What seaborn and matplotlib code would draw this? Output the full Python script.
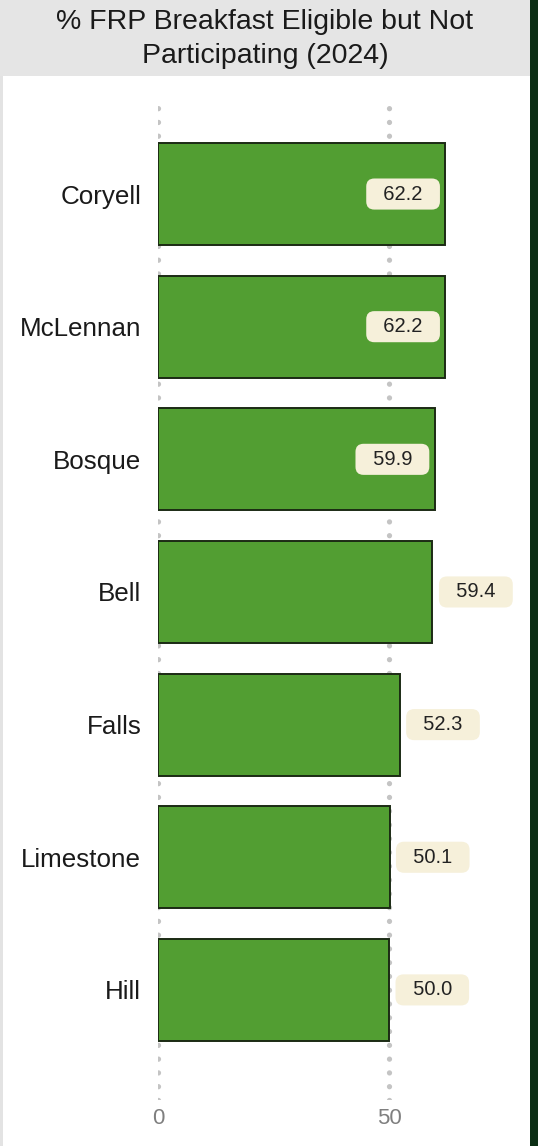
import matplotlib
matplotlib.use("Agg")
import matplotlib.pyplot as plt
import seaborn as sns
import pandas as pd
from matplotlib.patches import Rectangle

counties = ["Coryell", "McLennan", "Bosque", "Bell", "Falls", "Limestone", "Hill"]
values = [62.2, 62.2, 59.9, 59.4, 52.3, 50.1, 50.0]
xticks = [0, 50]
title = "% FRP Breakfast Eligible but Not\nParticipating (2024)"

df = pd.DataFrame({"county": counties, "value": values})

sns.set_theme(style="white")
plt.rcParams["font.family"] = ["Liberation Sans", "DejaVu Sans"]

W, H = 538, 1146
fig = plt.figure(figsize=(W / 100, H / 100), dpi=100)
fig.patch.set_facecolor("white")

# decorations: title strip, left border, right dark strip
fig.add_artist(Rectangle((0, 1 - 76 / H), 530 / W, 76 / H, transform=fig.transFigure,
                         facecolor="#E5E5E5", edgecolor="none", zorder=0))
fig.add_artist(Rectangle((0, 0), 2.5 / W, 1 - 76 / H, transform=fig.transFigure,
                         facecolor="#E3E3E3", edgecolor="none", zorder=0))
fig.add_artist(Rectangle((530 / W, 0), 8 / W, 1, transform=fig.transFigure,
                         facecolor="#0B2E14", edgecolor="none", zorder=0))
fig.text(265 / W, 1 - 39 / H, title, ha="center", va="center", fontsize=20.5,
         color="#1A1A1A", linespacing=1.36)

top_px, bot_px = 98, 1100
ax = fig.add_axes([158 / W, 1 - bot_px / H, (530 - 158) / W, (bot_px - top_px) / H])
ax.set_facecolor("none")

for t in xticks:
    ax.axvline(t, color="#C4C4C4", linewidth=3.8, linestyle=(0, (0.01, 2.6)),
               dash_capstyle="round", zorder=0)

sns.barplot(data=df, x="value", y="county", orient="h", ax=ax, color="#529E32",
            saturation=1, width=0.77, edgecolor="#1B2A14", linewidth=1.4, zorder=2)

ax.set_xlim(0, 80.5)
ax.set_ylim(6.83, -0.724)
ax.set_xticks(xticks)
ax.set_xticklabels([str(t) for t in xticks], fontsize=16, color="#7F7F7F")
ax.tick_params(axis="x", length=0, pad=6)
ax.tick_params(axis="y", length=0, pad=12, labelsize=18.7, labelcolor="#1A1A1A")
ax.set_xlabel("")
ax.set_ylabel("")
for s in ax.spines.values():
    s.set_visible(False)
ax.grid(False)

for i, v in enumerate(values):
    inside = v >= 59.5
    ax.annotate(f"  {v:.1f}  ", xy=(v, i), xytext=(-8.3 if inside else 9.0, 0),
                textcoords="offset points", ha="right" if inside else "left",
                va="center", fontsize=14.5, color="#222222", zorder=5,
                bbox=dict(boxstyle="round,pad=0.3,rounding_size=0.4",
                          facecolor="#F6F0DA", edgecolor="none"),
                annotation_clip=False)

fig.savefig("out.png", dpi=100)
